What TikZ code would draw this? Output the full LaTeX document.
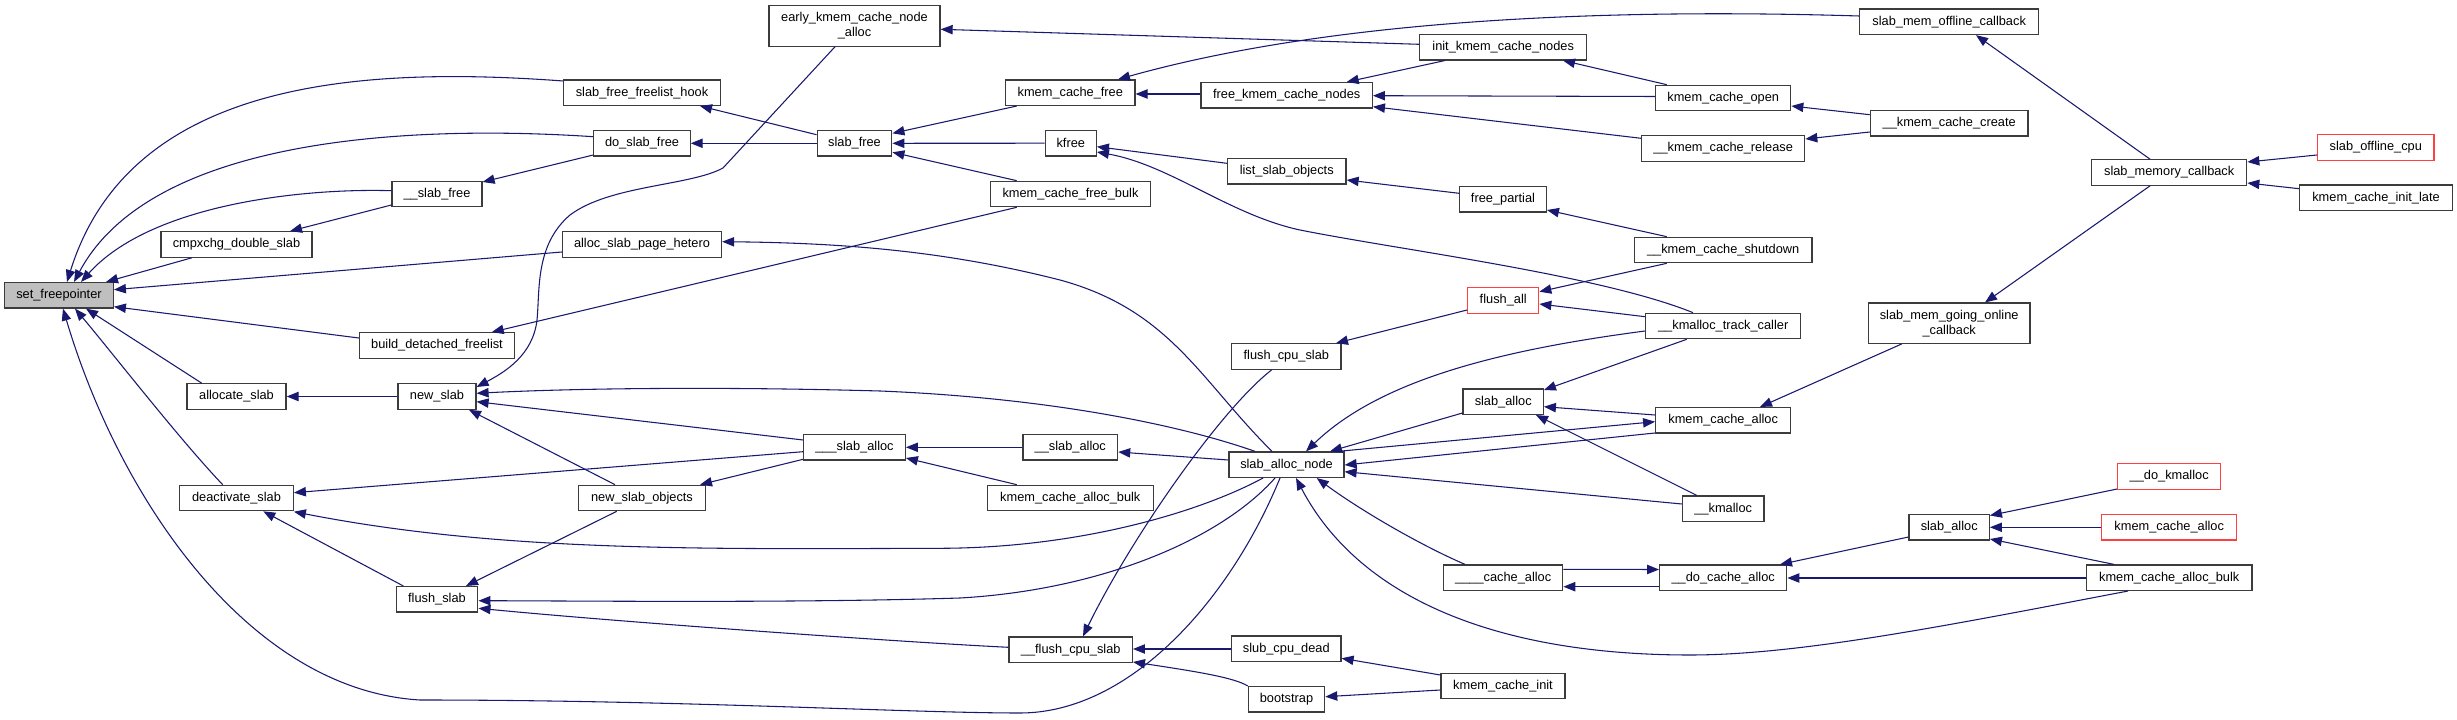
\documentclass[tikz,border=0pt]{standalone}
\usepackage{fontspec}
\setmainfont{Liberation Sans}
\usetikzlibrary{arrows.meta}
\definecolor{edgecol}{RGB}{25,25,112}
\definecolor{nodeborder}{RGB}{60,60,60}
\definecolor{nodered}{RGB}{255,64,64}
\definecolor{nodegray}{RGB}{191,191,191}
\newcommand\fnfont{\fontsize{9.6pt}{11.3pt}\selectfont}
\begin{document}
\begin{tikzpicture}[x=0.75pt,y=-0.75pt,
  fn/.style={draw=nodeborder, line width=0.9pt, fill=white, rectangle, inner sep=0pt, minimum height=19.1pt, font=\fnfont, text=black},
  fnred/.style={fn, draw=nodered},
  fngray/.style={fn, fill=nodegray},
  fntwo/.style={fn, minimum height=30.2pt, align=center},
  e/.style={draw=edgecol, line width=0.8pt, -{Triangle[length=9pt,width=7pt]}}]
\useasboundingbox (0,0) rectangle (2457,720);
\fill[white] (0,0) rectangle (2457,720);

% nodes
\node[fngray, minimum width=81.5pt] (sfp) at (59,295.3) {set\_freepointer};
\node[fn, minimum width=113.3pt] (cmpx) at (236.5,244.5) {cmpxchg\_double\_slab};
\node[fn, minimum width=67.5pt] (sslabfree) at (437,194) {\_\_slab\_free};
\node[fn, minimum width=116.3pt] (bdf) at (437,345.5) {build\_detached\_freelist};
\node[fn, minimum width=74.3pt] (allocslab) at (236.5,396.5) {allocate\_slab};
\node[fn, minimum width=85.2pt] (deact) at (236.5,498) {deactivate\_slab};
\node[fn, minimum width=58.5pt] (newslab) at (437,396.5) {new\_slab};
\node[fn, minimum width=61.3pt] (flushslab) at (437,599.3) {flush\_slab};
\node[fntwo, minimum width=128.3pt] (early) at (854.5,26) {early\_kmem\_cache\_node\\\_alloc};
\node[fn, minimum width=117.2pt] (sffh) at (642,92.7) {slab\_free\_freelist\_hook};
\node[fn, minimum width=72.2pt] (doslabfree) at (642,143.3) {do\_slab\_free};
\node[fn, minimum width=119.3pt] (asph) at (642,244.5) {alloc\_slab\_page\_hetero};
\node[fn, minimum width=56pt] (slabfree) at (854.5,143.3) {slab\_free};
\node[fn, minimum width=95.3pt] (nso) at (642,498) {new\_slab\_objects};
\node[fn, minimum width=76.2pt] (tslaballoc) at (854.5,447.3) {\_\_\_slab\_alloc};
\node[fn, minimum width=71pt] (dslaballoc) at (1070.3,447.3) {\_\_slab\_alloc};
\node[fn, minimum width=124.5pt] (kcab1) at (1070.3,498) {kmem\_cache\_alloc\_bulk};
\node[fn, minimum width=92.5pt] (fcpuslab2) at (1070.7,649.7) {\_\_flush\_cpu\_slab};
\node[fn, minimum width=97pt] (kcfree) at (1070.3,92.7) {kmem\_cache\_free};
\node[fn, minimum width=38.3pt] (kfree) at (1070.8,143.2) {kfree};
\node[fn, minimum width=120.3pt] (kcfb) at (1070.5,194) {kmem\_cache\_free\_bulk};
\node[fn, minimum width=128.5pt] (fkcn) at (1286.7,95.3) {free\_kmem\_cache\_nodes};
\node[fn, minimum width=89pt] (lso) at (1286.7,171.3) {list\_slab\_objects};
\node[fn, minimum width=82pt] (fcs) at (1286.3,356.5) {flush\_cpu\_slab};
\node[fn, minimum width=86.3pt] (san) at (1286.5,464.7) {slab\_alloc\_node};
\node[fn, minimum width=82pt] (scd) at (1286.3,648.7) {slub\_cpu\_dead};
\node[fn, minimum width=57.3pt] (boot) at (1286.5,699.3) {bootstrap};
\node[fn, minimum width=125.3pt] (ikcn) at (1503.2,47.2) {init\_kmem\_cache\_nodes};
\node[fn, minimum width=65pt] (fpart) at (1503,199.3) {free\_partial};
\node[fnred, minimum width=53.3pt] (flushall) at (1503.2,300.5) {flush\_all};
\node[fn, minimum width=60.2pt] (slaballoc1) at (1503.2,401.7) {slab\_alloc};
\node[fn, minimum width=89.3pt] (cachealloc4) at (1503.2,577.7) {\_\_\_\_cache\_alloc};
\node[fn, minimum width=93pt] (kci) at (1503,686) {kmem\_cache\_init};
\node[fn, minimum width=134.3pt] (smoc) at (1949.2,21.8) {slab\_mem\_offline\_callback};
\node[fn, minimum width=101.3pt] (kco) at (1723.2,98) {kmem\_cache\_open};
\node[fn, minimum width=118.3pt] (kcc) at (1949.2,123.3) {\_\_kmem\_cache\_create};
\node[fn, minimum width=122.3pt] (kcr) at (1723.2,148.5) {\_\_kmem\_cache\_release};
\node[fn, minimum width=133.3pt] (kcs) at (1723.2,250) {\_\_kmem\_cache\_shutdown};
\node[fn, minimum width=116.3pt] (ktc) at (1723.2,326) {\_\_kmalloc\_track\_caller};
\node[fntwo, minimum width=121.3pt] (smgoc) at (1949.2,323.2) {slab\_mem\_going\_online\\\_callback};
\node[fn, minimum width=101.3pt] (kca1) at (1723.2,420.3) {kmem\_cache\_alloc};
\node[fn, minimum width=61.3pt] (kmalloc) at (1723.2,508.7) {\_\_kmalloc};
\node[fn, minimum width=95.3pt] (docache) at (1723.2,577.8) {\_\_do\_cache\_alloc};
\node[fn, minimum width=60.2pt] (slaballoc2) at (1949.2,527.3) {slab\_alloc};
\node[fn, minimum width=116.3pt] (smc) at (2169.2,172.5) {slab\_memory\_callback};
\node[fnred, minimum width=87.2pt] (soc) at (2375.8,147.5) {slab\_offline\_cpu};
\node[fn, minimum width=114.5pt] (kcil) at (2376,197.8) {kmem\_cache\_init\_late};
\node[fnred, minimum width=77.3pt] (dokmalloc) at (2169.2,476.5) {\_\_do\_kmalloc};
\node[fnred, minimum width=101.3pt] (kca2) at (2169.2,527.2) {kmem\_cache\_alloc};
\node[fn, minimum width=124.3pt] (kcab2) at (2169.2,577.7) {kmem\_cache\_alloc\_bulk};

% edges into set_freepointer
\draw[e] (sffh.west |- 0,81) .. controls (360,66) and (130,80) .. (sfp.north -| 67,0);
\draw[e] (doslabfree.west |- 0,136.7) .. controls (400,124) and (150,140) .. (sfp.north -| 74,0);
\draw[e] (sslabfree.west |- 0,190.7) .. controls (300,188) and (150,205) .. (sfp.north -| 81,0);
\draw[e] (cmpx.south -| 191.7,0) -- (sfp.north -| 106,0);
\draw[e] (asph.west |- 0,252) -- (sfp.east |- 0,289.7);
\draw[e] (bdf.west |- 0,338) -- (sfp.east |- 0,306.7);
\draw[e] (allocslab.north -| 201.7,0) -- (sfp.south -| 86,0);
\draw[e] (deact.north -| 222.7,0) .. controls (180,440) and (110,350) .. (sfp.south -| 75,0);
\draw[e] (san.south -| 1280,0) .. controls (1230,600) and (1130,713) .. (1020,713) .. controls (910,713) and (680,700) .. (420,700) .. controls (250,690) and (120,500) .. (sfp.south -| 63,0);

% slab_alloc_node callees
\draw[e] (san.south -| 1263,0) .. controls (1200,512) and (1080,548) .. (940,548.3) .. controls (700,549) and (500,552) .. (deact.east |- 0,511.7);
\draw[e] (san.south -| 1275,0) .. controls (1220,540) and (1100,590) .. (960,598) .. controls (800,603) and (600,601) .. (flushslab.east |- 0,600.7);
\draw[e] (san.north -| 1255,0) .. controls (1180,425) and (1050,398) .. (880,391) .. controls (700,386) and (560,389) .. (newslab.east |- 0,393.3);
\draw[e] (san.north -| 1272,0) .. controls (1200,380) and (1170,310) .. (1060,280) .. controls (950,252) and (850,243) .. (asph.east |- 0,241.7);
\draw[e] (san.west |- 0,460) -- (dslaballoc.east |- 0,452);

% flush paths
\draw[e] (fcs.south -| 1271.7,0) .. controls (1220,410) and (1130,540) .. (fcpuslab2.north -| 1083,0);
\draw[e] (scd.west |- 0,649) -- (fcpuslab2.east |- 0,649);
\draw[e] (boot.north west) .. controls (1235,678) and (1200,672) .. (fcpuslab2.east |- 0,662);
\draw[e] (fcpuslab2.west |- 0,647.3) .. controls (900,642) and (620,622) .. (flushslab.east |- 0,608.3);
\draw[e] (flushslab.north -| 403.3,0) -- (deact.south -| 263.3,0);
\draw[e] (nso.south -| 616.7,0) -- (flushslab.north -| 466,0);
\draw[e] (nso.north -| 615,0) -- (newslab.south -| 469,0);
\draw[e] (tslaballoc.west |- 0,459.3) -- (nso.north -| 700,0);
\draw[e] (tslaballoc.west |- 0,440) -- (newslab.east |- 0,401.7);
\draw[e] (tslaballoc.west |- 0,451.7) -- (deact.east |- 0,492.7);
\draw[e] (dslaballoc.west) -- (tslaballoc.east);
\draw[e] (kcab1.north -| 1016.7,0) -- (tslaballoc.east |- 0,458);
\draw[e] (newslab.west) -- (allocslab.east);
\draw[e] (early.south -| 835,0) -- (723,168) .. controls (690,186) and (610,185) .. (570,215) .. controls (535,245) and (540,290) .. (537,320) .. controls (533,355) and (505,372) .. (newslab.east |- 0,387);

% free paths
\draw[e] (doslabfree.west |- 0,155) -- (sslabfree.east |- 0,182);
\draw[e] (sslabfree.west |- 0,205) -- (cmpx.north -| 290,0);
\draw[e] (slabfree.west |- 0,134.7) -- (sffh.south -| 700,0);
\draw[e] (slabfree.west) -- (doslabfree.east);
\draw[e] (kcfree.south -| 1016.7,0) -- (slabfree.east |- 0,133.3);
\draw[e] (kfree.west) -- (slabfree.east);
\draw[e] (kcfb.north -| 1016.7,0) -- (slabfree.east |- 0,152.3);
\draw[e] (kcfb.south -| 1016.7,0) -- (bdf.north -| 491.7,0);
\draw[e] (fkcn.west |- 0,94) -- (kcfree.east |- 0,94);
\draw[e] (lso.west |- 0,163.3) -- (kfree.east |- 0,146.7);
\draw[e] (ktc.north -| 1693,0) .. controls (1600,275) and (1400,250) .. (1300,230) .. controls (1230,215) and (1170,165) .. (kfree.east |- 0,152);
\draw[e] (smoc.west |- 0,16) .. controls (1600,8) and (1330,20) .. (kcfree.north -| 1118,0);
\draw[e] (ikcn.west |- 0,44.3) -- (early.east |- 0,29.3);
\draw[e] (ikcn.south -| 1445,0) -- (fkcn.north -| 1346.7,0);
\draw[e] (kco.west |- 0,96.5) -- (fkcn.east |- 0,95.7);
\draw[e] (kcr.west |- 0,138.3) -- (fkcn.east |- 0,106.7);
\draw[e] (kco.north -| 1666.7,0) -- (ikcn.south -| 1563,0);
\draw[e] (kcc.west |- 0,114.7) -- (kco.east |- 0,106);
\draw[e] (kcc.west |- 0,132) -- (kcr.east |- 0,139);
\draw[e] (fpart.west |- 0,193.3) -- (lso.east |- 0,180);
\draw[e] (kcs.north -| 1666.7,0) -- (fpart.east |- 0,210);
\draw[e] (kcs.south -| 1666.7,0) -- (flushall.east |- 0,291.7);
\draw[e] (ktc.west |- 0,316.7) -- (flushall.east |- 0,304);
\draw[e] (flushall.west |- 0,310) -- (fcs.north -| 1336,0);
\draw[e] (kci.west |- 0,675) -- (scd.east |- 0,658.3);
\draw[e] (kci.west |- 0,690) -- (boot.east |- 0,696.7);

% alloc paths
\draw[e] (ktc.west |- 0,331) .. controls (1500,350) and (1380,380) .. (san.north -| 1306,0);
\draw[e] (slaballoc1.west |- 0,413) -- (san.north -| 1330,0);
\draw[e] (san.north -| 1338,0) -- (kca1.west |- 0,421.7);
\draw[e] (kca1.west |- 0,433) -- (san.east |- 0,465);
\draw[e] (kmalloc.west |- 0,504) -- (san.east |- 0,471.7);
\draw[e] (cachealloc4.north -| 1465,0) .. controls (1420,545) and (1360,510) .. (san.south -| 1316.7,0);
\draw[e] (kcab2.south -| 2128,0) .. controls (1950,625) and (1800,655) .. (1690,655) .. controls (1500,655) and (1360,600) .. (san.south -| 1296,0);
\draw[e] (cachealloc4.east |- 0,569.3) -- (docache.west |- 0,569.5);
\draw[e] (docache.west |- 0,586.7) -- (cachealloc4.east |- 0,586.7);
\draw[e] (slaballoc2.west |- 0,537) -- (docache.north -| 1780,0);
\draw[e] (kcab2.west |- 0,578) -- (docache.east |- 0,578);
\draw[e] (dokmalloc.west |- 0,489) -- (slaballoc2.east |- 0,515.5);
\draw[e] (kca2.west |- 0,527.3) -- (slaballoc2.east |- 0,527.3);
\draw[e] (kcab2.north -| 2114,0) -- (slaballoc2.east |- 0,539);
\draw[e] (ktc.south -| 1686.7,0) -- (slaballoc1.east |- 0,390);
\draw[e] (kca1.west |- 0,415) -- (slaballoc1.east |- 0,406.7);
\draw[e] (kmalloc.north -| 1696.7,0) -- (slaballoc1.south -| 1536,0);
\draw[e] (smgoc.south -| 1901.7,0) -- (kca1.north -| 1760,0);
\draw[e] (smc.south -| 2150,0) -- (smgoc.north -| 1985,0);
\draw[e] (smc.north -| 2150,0) -- (smoc.south -| 1976,0);
\draw[e] (soc.west |- 0,155) -- (smc.east |- 0,162);
\draw[e] (kcil.west |- 0,188.7) -- (smc.east |- 0,183);
\end{tikzpicture}
\end{document}
